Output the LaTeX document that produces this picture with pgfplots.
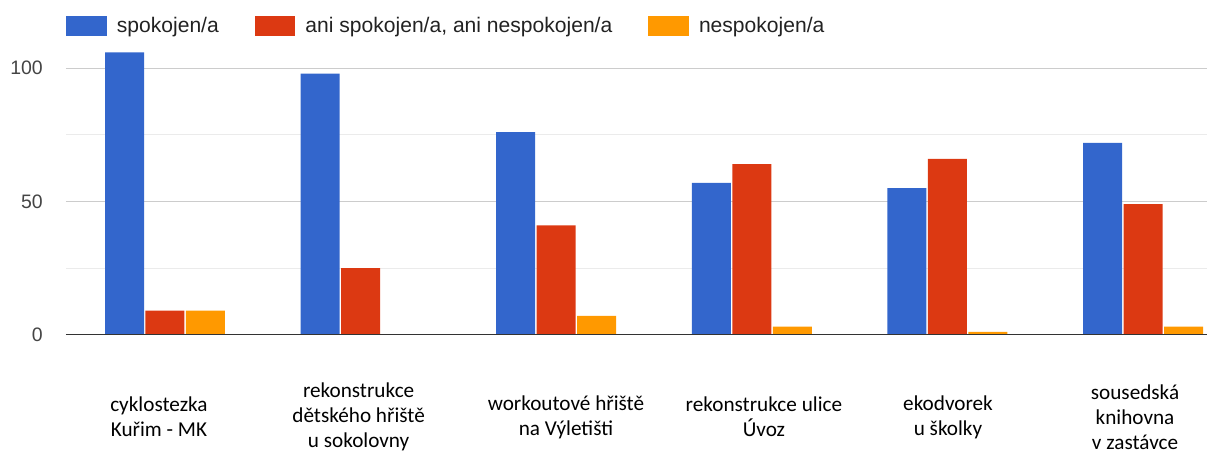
\documentclass[border=0pt]{standalone}
\usepackage{pgfplots}
\pgfplotsset{compat=1.18}
\usepackage{fontspec}
\setmainfont{Liberation Sans}
\newfontfamily\carlito{Carlito}
\definecolor{gblue}{HTML}{3366CC}
\definecolor{gred}{HTML}{DC3912}
\definecolor{gorange}{HTML}{FF9900}
\definecolor{ticktext}{HTML}{444444}
\definecolor{legtext}{HTML}{222222}
\definecolor{majgrid}{HTML}{CCCCCC}
\definecolor{mingrid}{HTML}{EBEBEB}
\definecolor{basel}{HTML}{333333}
\begin{document}
\begin{tikzpicture}
\useasboundingbox (0,0) rectangle (905.25pt,337.5pt);
\begin{axis}[
  at={(49.5pt,86.55pt)}, anchor=south west,
  scale only axis,
  width=855.75pt, height=219.7pt,
  xmin=-0.506, xmax=5.327,
  ymin=0, ymax=110,
  ybar=1.1pt, bar width=29.25pt,
  axis line style={draw=none},
  major tick length=0pt, minor tick length=0pt,
  xtick={-0.031,0.990,2.050,3.062,4.003,4.959},
  xticklabels={{cyklostezka\\Kuřim - MK},{rekonstrukce\\dětského hřiště\\u sokolovny},{workoutové hřiště\\na Výletišti},{rekonstrukce ulice\\Úvoz},{ekodvorek\\u školky},{sousedská\\knihovna\\v zastávce}},
  xticklabel style={anchor=center, align=center, yshift=-61.9pt, inner sep=0pt,
    font={\carlito\fontsize{15.9}{18.75}\selectfont}, text=black},
  ytick={0,50,100},
  minor ytick={25,75},
  ymajorgrids, yminorgrids,
  major grid style={majgrid, line width=0.75pt},
  minor grid style={mingrid, line width=0.75pt},
  yticklabel style={anchor=east, inner sep=0pt, xshift=-17.25pt,
    font={\fontsize{14.6}{17}\selectfont}, text=ticktext},
  /pgf/number format/assume math mode=true,
  legend columns=3,
  legend style={at={(axis description cs:0,1)}, anchor=west, yshift=11.8pt,
    draw=none, fill=none, inner sep=0pt, column sep=0pt,
    nodes={inner sep=0pt},
    font={\fontsize{15.8}{18}\selectfont}, text=legtext},
  /tikz/every odd column/.append style={column sep=7.5pt},
  /tikz/every even column/.append style={column sep=27pt},
  legend image code/.code={\fill[#1] (0pt,-7.5pt) rectangle (30.5pt,7.5pt);},
]
\addplot[fill=gblue, draw=none] coordinates {(0,106) (1,98) (2,76) (3,57) (4,55) (5,72)};
\addplot[fill=gred, draw=none] coordinates {(0,9) (1,25) (2,41) (3,64) (4,66) (5,49)};
\addplot[fill=gorange, draw=none] coordinates {(0,9) (1,0) (2,7) (3,3) (4,1) (5,3)};
\legend{spokojen/a, {ani spokojen/a, ani nespokojen/a}, nespokojen/a}
\draw[basel, line width=1.1pt] (axis cs:-0.506,0) -- (axis cs:5.327,0);
\end{axis}
\end{tikzpicture}
\end{document}
